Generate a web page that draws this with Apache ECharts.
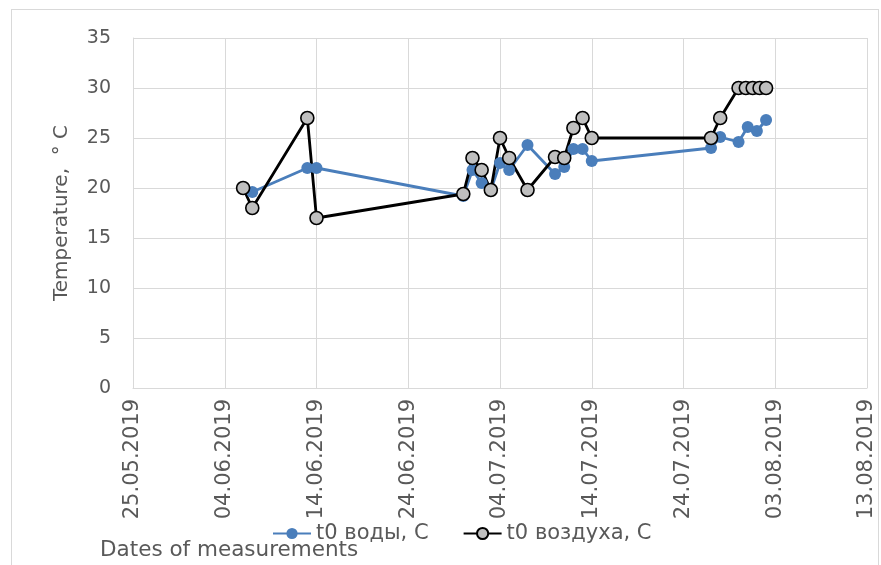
<!DOCTYPE html>
<html>
<head>
<meta charset="utf-8">
<script src="https://cdn.jsdelivr.net/npm/echarts@6/dist/echarts.min.js"></script>
<style>
  html, body { margin: 0; padding: 0; background: #fff; }
  #frame { position: absolute; left: 11px; top: 9px; width: 868px; height: 560px; border: 1px solid #d9d9d9; box-sizing: border-box; }
  #main { position: absolute; left: 0; top: 0; width: 881px; height: 565px; }
</style>
</head>
<body>
<div id="frame"></div>
<div id="main"></div>
<script>
  // dates of measurements (dd.mm.yyyy, some with hours)
  var waterDates = ['07.06.2019', '13.06.2019', '14.06.2019', '30.06.2019', '01.07.2019', '02.07.2019',
    '03.07.2019', '04.07.2019', '05.07.2019', '07.07.2019', '10.07.2019', '11.07.2019', '12.07.2019',
    '13.07.2019', '14.07.2019', '27.07.2019', '28.07.2019', '30.07.2019', '31.07.2019', '01.08.2019', '02.08.2019'];
  var waterTemp = [19.6, 22, 22, 19.2, 21.8, 20.5, 19.8, 22.5, 21.8, 24.3, 21.4, 22.1, 23.9, 23.9, 22.7,
    24.0, 25.1, 24.6, 26.1, 25.7, 26.8];

  var airDates = ['06.06.2019', '07.06.2019', '13.06.2019', '14.06.2019', '30.06.2019', '01.07.2019',
    '02.07.2019', '03.07.2019', '04.07.2019', '05.07.2019', '07.07.2019', '10.07.2019', '11.07.2019',
    '12.07.2019', '13.07.2019', '14.07.2019', '27.07.2019', '28.07.2019', '30.07.2019 00',
    '30.07.2019 19', '31.07.2019 13', '01.08.2019 07', '02.08.2019 00'];
  var airTemp = [20, 18, 27, 17, 19.4, 23, 21.8, 19.8, 25, 23, 19.8, 23.1, 23, 26, 27, 25, 25, 27,
    30, 30, 30, 30, 30];

  var startDate = '25.05.2019';
  var endDate = '13.08.2019';
  var tickDays = 10;

  var DAY = 86400000;
  function parse(s) {
    var p = s.split(' ');
    var d = p[0].split('.');
    var h = p[1] ? +p[1] : 0;
    return Date.UTC(+d[2], +d[1] - 1, +d[0], h);
  }
  var t0 = parse(startDate);
  function dayNum(s) { return (parse(s) - t0) / DAY; }
  function fmt(v) {
    var dt = new Date(t0 + v * DAY);
    var dd = ('0' + dt.getUTCDate()).slice(-2);
    var mm = ('0' + (dt.getUTCMonth() + 1)).slice(-2);
    return dd + '.' + mm + '.' + dt.getUTCFullYear();
  }
  function pairs(ds, vs) {
    var out = [];
    for (var i = 0; i < ds.length; i++) out.push([dayNum(ds[i]), vs[i]]);
    return out;
  }

  var font = 'DejaVu Sans';
  var grey = '#595959';
  var chart = echarts.init(document.getElementById('main'));
  chart.setOption({
    animation: false,
    grid: { left: 133, right: 14, top: 38, bottom: 177 },
    xAxis: {
      type: 'value',
      min: 0,
      max: dayNum(endDate),
      interval: tickDays,
      axisLine: { lineStyle: { color: '#d9d9d9', width: 1 } },
      axisTick: { show: false },
      splitLine: { show: true, lineStyle: { color: '#d9d9d9', width: 1 } },
      axisLabel: {
        rotate: 90, color: grey, fontFamily: font, fontSize: 21, margin: 11,
        formatter: function (v) { return fmt(v); }
      }
    },
    yAxis: {
      type: 'value',
      min: 0, max: 35, interval: 5,
      name: 'Temperature,  ° C',
      nameLocation: 'middle',
      nameGap: 61,
      nameTextStyle: { color: grey, fontFamily: font, fontSize: 20 },
      axisLine: { show: true, lineStyle: { color: '#d9d9d9', width: 1 } },
      axisTick: { show: false },
      splitLine: { lineStyle: { color: '#d9d9d9', width: 1 } },
      axisLabel: { color: grey, fontFamily: font, fontSize: 19, margin: 22 }
    },
    legend: {
      left: 267, top: 518,
      itemWidth: 38, itemHeight: 14, itemGap: 34,
      textStyle: { color: grey, fontFamily: font, fontSize: 21 },
      data: ['t0 воды, С', 't0 воздуха, С']
    },
    graphic: [{
      type: 'text', left: 100, top: 539,
      style: { text: 'Dates of measurements', fill: grey, font: '21.5px "DejaVu Sans"' }
    }],
    series: [{
      name: 't0 воды, С',
      type: 'line',
      data: pairs(waterDates, waterTemp),
      symbol: 'circle', symbolSize: 12,
      lineStyle: { color: '#4a7ebb', width: 2.8 },
      itemStyle: { color: '#4a7ebb', borderWidth: 0 }
    }, {
      name: 't0 воздуха, С',
      type: 'line',
      data: pairs(airDates, airTemp),
      symbol: 'circle', symbolSize: 13,
      lineStyle: { color: '#000', width: 2.8 },
      itemStyle: { color: '#bfbfbf', borderColor: '#000', borderWidth: 1.6 }
    }]
  });
</script>
</body>
</html>
